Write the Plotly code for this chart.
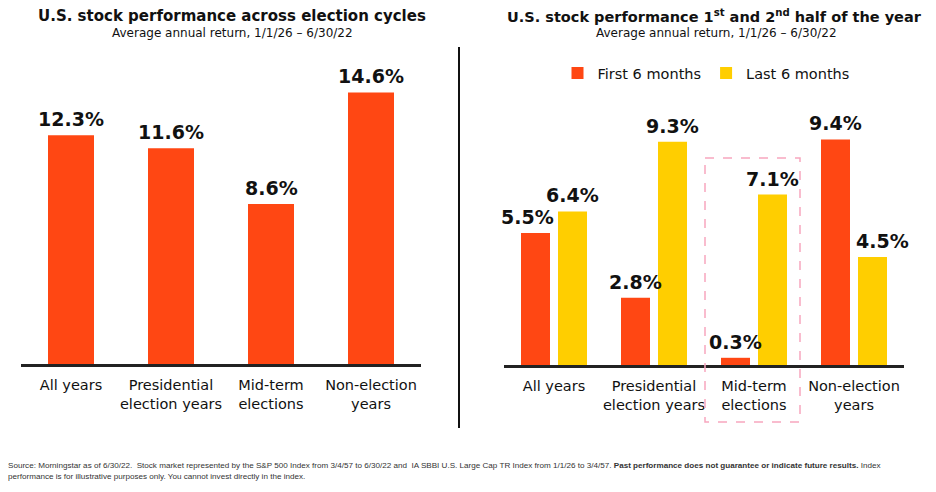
import plotly.graph_objects as go

RED = '#FF4713'
YELLOW = '#FFCE00'
PINK = '#F7A6BE'

# left chart: full year
cycles = ['All years', 'Presidential<br>election years', 'Mid-term<br>elections', 'Non-election<br>years']
annual_ret = [12.3, 11.6, 8.6, 14.6]

# right chart: halves of the year
first_half = [5.5, 2.8, 0.3, 9.4]
last_half = [6.4, 9.3, 7.1, 4.5]
first_nudge = [-0.08, 0, 0, 0]
last_nudge = [0, 0, 0, 0.10]

FONT = 'DejaVu Sans'

# page body adds an 8px margin, so the figure is a bit smaller than the window
OFF = 8
W, H = 936 - OFF, 492 - OFF


def px_x(p):
    return (p - OFF) / W


def px_y(p):
    return 1 - (p - OFF) / H


fig = go.Figure()

fig.add_trace(go.Bar(x=cycles, y=annual_ret, marker=dict(color=RED, line=dict(width=0)),
                     width=0.46, xaxis='x', yaxis='y', showlegend=False, hoverinfo='y'))
# pair of bars: 0.29 wide each, small gap in the middle
fig.add_trace(go.Bar(x=cycles, y=first_half, name='First 6 months', width=0.29, offset=-0.33,
                     marker=dict(color=RED, line=dict(width=0)), xaxis='x2', yaxis='y2'))
fig.add_trace(go.Bar(x=cycles, y=last_half, name='Last 6 months', width=0.29, offset=0.04,
                     marker=dict(color=YELLOW, line=dict(width=0)), xaxis='x2', yaxis='y2'))

val_font = dict(family=FONT, size=19, color='#111', weight='bold')
annots = []
for i, v in enumerate(annual_ret):
    annots.append(dict(x=i, y=v, xref='x', yref='y', text=f'{v:.1f}%', showarrow=False,
                       yanchor='bottom', yshift=3, font=val_font))
for i, (a, b) in enumerate(zip(first_half, last_half)):
    annots.append(dict(x=i - 0.185 + first_nudge[i], y=a, xref='x2', yref='y2', text=f'{a:.1f}%',
                       showarrow=False, yanchor='bottom', yshift=3, font=val_font))
    annots.append(dict(x=i + 0.185 + last_nudge[i], y=b, xref='x2', yref='y2', text=f'{b:.1f}%',
                       showarrow=False, yanchor='bottom', yshift=3, font=val_font))

subtitle = 'Average annual return, 1/1/26 – 6/30/22'
footnote = ('Source: Morningstar as of 6/30/22.  Stock market represented by the S&P 500 Index from 3/4/57 to 6/30/22 and  '
            'IA SBBI U.S. Large Cap TR Index from 1/1/26 to 3/4/57. <b>Past performance does not guarantee or indicate future results.</b> Index'
            '<br>performance is for illustrative purposes only. You cannot invest directly in the index.')

annots += [
    dict(x=px_x(232), y=px_y(16), xref='paper', yref='paper', showarrow=False,
         xanchor='center', yanchor='middle',
         text='<b>U.S. stock performance across election cycles</b>',
         font=dict(family=FONT, size=15, color='#111')),
    dict(x=px_x(232), y=px_y(33), xref='paper', yref='paper', showarrow=False,
         xanchor='center', yanchor='middle', text=subtitle,
         font=dict(family=FONT, size=12, color='#111')),
    dict(x=px_x(714), y=px_y(16), xref='paper', yref='paper', showarrow=False,
         xanchor='center', yanchor='middle',
         text='<b>U.S. stock performance 1<sup>st</sup> and 2<sup>nd</sup> half of the year</b>',
         font=dict(family=FONT, size=14.5, color='#111')),
    dict(x=px_x(716), y=px_y(33), xref='paper', yref='paper', showarrow=False,
         xanchor='center', yanchor='middle', text=subtitle,
         font=dict(family=FONT, size=12, color='#111')),
    dict(x=px_x(6), y=px_y(471), xref='paper', yref='paper', showarrow=False,
         xanchor='left', yanchor='middle', align='left', text=footnote,
         font=dict(family='Liberation Sans', size=8.1, color='#333')),
]

shapes = [
    # divider between panels
    dict(type='line', xref='paper', yref='paper', x0=px_x(459), x1=px_x(459),
         y0=px_y(47), y1=px_y(428), line=dict(color='#111', width=2)),
    # highlight mid-term group
    dict(type='rect', xref='paper', yref='paper', x0=px_x(705), x1=px_x(800),
         y0=px_y(158), y1=px_y(422), line=dict(color=PINK, width=1.5, dash='dash')),
]

axis_x = dict(type='category', showline=True, linecolor='#222', linewidth=2.5, ticks='',
              showgrid=False, tickfont=dict(family=FONT, size=14.5, color='#111'),
              ticklabelstandoff=6, fixedrange=True, automargin=False, range=[-0.5, 3.5])
axis_y = dict(visible=False, showgrid=False, zeroline=False, fixedrange=True, automargin=False)

fig.update_layout(
    template='none',
    width=W, height=H,
    margin=dict(l=0, r=0, t=0, b=0, autoexpand=False),
    paper_bgcolor='white', plot_bgcolor='white',
    xaxis=dict(axis_x, domain=[px_x(21), px_x(421)], anchor='y'),
    yaxis=dict(axis_y, domain=[px_y(364), px_y(80)], range=[0, 284 / 18.6]),
    xaxis2=dict(axis_x, domain=[px_x(504), px_x(904)], anchor='y2'),
    yaxis2=dict(axis_y, domain=[px_y(365), px_y(80)], range=[0, 285 / 24.0]),
    legend=dict(orientation='h', x=px_x(706), y=px_y(73), xanchor='center', yanchor='middle',
                font=dict(family=FONT, size=14.5, color='#111'), itemwidth=30,
                bgcolor='rgba(0,0,0,0)', borderwidth=0),
    annotations=annots,
    shapes=shapes,
)

fig.write_html('out.html')
